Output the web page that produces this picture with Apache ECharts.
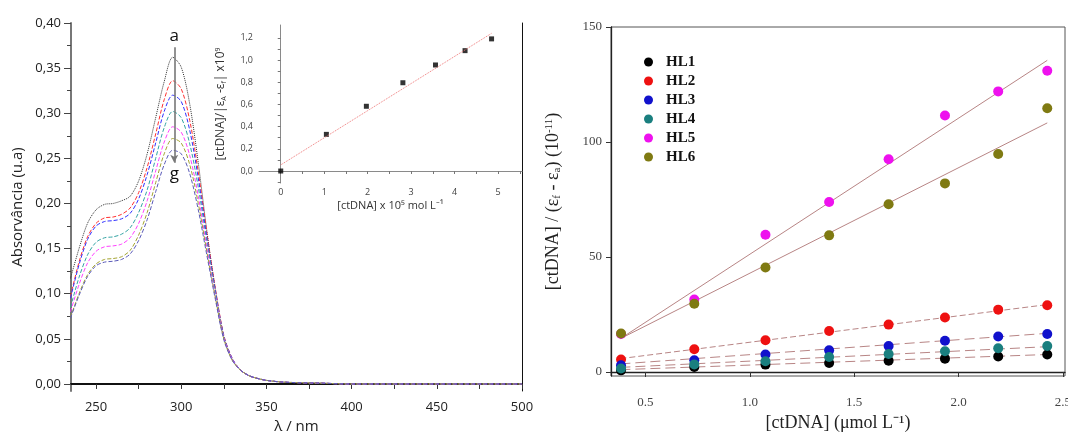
<!DOCTYPE html>
<html><head><meta charset="utf-8">
<script src="https://cdn.jsdelivr.net/npm/echarts@6/dist/echarts.min.js"></script>
<style>html,body{margin:0;padding:0;background:#fff}#c{width:1068px;height:435px}</style>
</head><body><div id="c"></div>
<script>
// ---------- Left panel: absorption spectra ----------
const wavelengths = [235,240,245,250,255,260,265,270,275,280,285,290,295,300,305,310,315,320,325,330,335,340,345,350,360,380,400,450,500];
const specA = [0.117,0.150,0.178,0.193,0.199,0.200,0.203,0.208,0.225,0.255,0.295,0.335,0.362,0.351,0.310,0.245,0.170,0.105,0.052,0.027,0.015,0.009,0.006,0.004,0.002,0.001,0,0,0];
const specB = [0.097,0.135,0.163,0.178,0.184,0.185,0.188,0.195,0.212,0.240,0.277,0.315,0.336,0.327,0.292,0.235,0.168,0.106,0.054,0.028,0.015,0.009,0.006,0.004,0.002,0.001,0,0,0];
const specC = [0.095,0.132,0.160,0.175,0.180,0.181,0.183,0.189,0.205,0.232,0.267,0.302,0.320,0.313,0.281,0.228,0.163,0.104,0.053,0.028,0.015,0.009,0.006,0.004,0.002,0.001,0,0,0];
const specD = [0.085,0.118,0.143,0.157,0.162,0.163,0.166,0.173,0.190,0.215,0.250,0.284,0.302,0.295,0.266,0.218,0.158,0.101,0.052,0.027,0.015,0.009,0.006,0.004,0.002,0.001,0,0,0];
const specE = [0.080,0.110,0.134,0.147,0.152,0.153,0.155,0.162,0.178,0.203,0.236,0.268,0.285,0.279,0.253,0.208,0.152,0.098,0.051,0.027,0.015,0.009,0.006,0.004,0.002,0.001,0,0,0];
const specF = [0.074,0.100,0.121,0.133,0.138,0.139,0.141,0.148,0.165,0.190,0.223,0.255,0.272,0.267,0.243,0.200,0.147,0.096,0.050,0.026,0.015,0.009,0.006,0.004,0.002,0.001,0,0,0];
const specG = [0.073,0.098,0.119,0.131,0.135,0.136,0.138,0.144,0.159,0.182,0.213,0.243,0.259,0.255,0.233,0.193,0.143,0.094,0.049,0.026,0.015,0.009,0.006,0.004,0.002,0.001,0,0,0];
const specColors = ['#333333','#ff3030','#3030ff','#33a3a3','#ff40ff','#a3a330','#5a5ab8'];
const leftXTickLabels = [250,300,350,400,450,500];
const leftXTicks = [250,275,300,325,350,375,400,425,450,475,500];
const leftYTickLabels = [0,0.05,0.10,0.15,0.20,0.25,0.30,0.35,0.40];
const leftYMinorTicks = [0.025,0.075,0.125,0.175,0.225,0.275,0.325,0.375];
// arrow a -> g
const arrowX = 295.9;
const arrowFromTo = [0.373, 0.245];
const labelA = 0.385, labelG = 0.232;

// ---------- Inset ----------
const insetX = [0, 1.05, 1.97, 2.81, 3.56, 4.24, 4.85];
const insetY = [0.0, 0.33, 0.583, 0.795, 0.955, 1.084, 1.19];
const insetFitX = [0, 4.85];
const insetFitY = [0.055, 1.24];
const insetXTickLabels = [0,1,2,3,4,5];
const insetXTicks = [0,0.5,1,1.5,2,2.5,3,3.5,4,4.5,5,5.5];
const insetYTickLabels = [0,0.2,0.4,0.6,0.8,1.0,1.2];
const insetYTicks = [-0.1,0,0.1,0.2,0.3,0.4,0.5,0.6,0.7,0.8,0.9,1.0,1.1,1.2];

// ---------- Right panel ----------
const concX = [0.383, 0.734, 1.075, 1.38, 1.665, 1.935, 2.19, 2.425];
const HL1 = [0.7, 2.2, 3.2, 3.9, 4.9, 5.8, 6.7, 7.6];
const HL2 = [5.4, 9.9, 13.8, 17.8, 20.6, 23.7, 27.1, 29.0];
const HL3 = [2.9, 5.1, 7.6, 9.4, 11.3, 13.6, 15.4, 16.5];
const HL4 = [1.5, 3.3, 4.7, 6.5, 7.8, 9.0, 10.3, 11.3];
const HL5 = [16.5, 31.5, 59.7, 73.9, 92.5, 111.5, 122.0, 131.0];
const HL6 = [16.7, 29.7, 45.4, 59.4, 72.9, 82.0, 94.8, 114.7];
const hlNames = ['HL1','HL2','HL3','HL4','HL5','HL6'];
const hlColors = ['#000000','#ee1111','#1111cc','#1a7f7f','#ee11ee','#7f7a12'];
const fitX = [0.38, 2.425];
const fitStart = [1.0, 5.8, 3.5, 2.0, 14.5, 14.5];
const fitEnd = [7.6, 29.3, 16.8, 11.0, 135.5, 108.3];
const rightXTickLabels = [0.5,1.0,1.5,2.0,2.5];
const rightYTickLabels = [0,50,100,150];

const zip = (xs, ys) => xs.map((x, i) => [x, ys[i]]);
const sans = 'Open Sans';
const serif = 'Liberation Serif';
const comma = (d) => (v) => v.toFixed(d).replace('.', ',');

const specs = [specA, specB, specC, specD, specE, specF, specG];
const specTypes = ['dotted',[4,2],[4,2],[4,2],[4,2],[4,2],[4,2]];

const series = [];
specs.forEach((s, i) => {
  const ser = {
    type: 'line', xAxisIndex: 0, yAxisIndex: 0, data: zip(wavelengths, s),
    showSymbol: false, smooth: 0.3, silent: true,
    lineStyle: { width: 1, color: specColors[i], type: specTypes[i] }, z: 2
  };
  if (i === 0) {
    ser.markLine = {
      silent: true, symbol: ['none', 'arrow'], symbolSize: [6, 8],
      lineStyle: { color: '#777', width: 1.6, type: 'solid' }, label: { show: false },
      data: [[{ coord: [arrowX, arrowFromTo[0]] }, { coord: [arrowX, arrowFromTo[1]] }]]
    };
    ser.markPoint = {
      silent: true, symbol: 'circle', symbolSize: 1, itemStyle: { color: 'transparent' },
      label: { show: true, position: 'inside', formatter: p => p.name, color: '#111', fontSize: 17, fontFamily: sans },
      data: [{ name: 'a', coord: [arrowX, labelA] }, { name: 'g', coord: [arrowX, labelG] }]
    };
  }
  series.push(ser);
});
series.push({ type: 'line', xAxisIndex: 2, yAxisIndex: 3, data: zip(insetFitX, insetFitY), showSymbol: false,
  lineStyle: { color: '#f07a7a', width: 1, type: 'dotted' }, silent: true });
series.push({ type: 'scatter', xAxisIndex: 2, yAxisIndex: 3, data: zip(insetX, insetY), symbol: 'rect', symbolSize: 5,
  itemStyle: { color: '#000' }, silent: true });

const hlData = [HL1, HL2, HL3, HL4, HL5, HL6];
const fitTypes = [[10,5],[6,3],[10,5],[10,5],'solid','solid'];
hlData.forEach((d, i) => {
  series.push({ type: 'line', name: 'fit' + (i + 1), xAxisIndex: 3, yAxisIndex: 4,
    data: [[fitX[0], fitStart[i]], [fitX[1], fitEnd[i]]], showSymbol: false, silent: true,
    lineStyle: { color: '#b88585', width: 1, type: fitTypes[i] }, z: 1 });
});
hlData.forEach((d, i) => {
  series.push({ type: 'scatter', name: hlNames[i], xAxisIndex: 3, yAxisIndex: 4, data: zip(concX, d),
    symbol: 'circle', symbolSize: 10, itemStyle: { color: hlColors[i], opacity: 1 }, z: 3 });
});

const option = {
  backgroundColor: '#ffffff',
  animation: false,
  grid: [
    { left: 71, top: 23, width: 451, height: 368, outerBoundsMode: 'none', containLabel: false },
    { left: 259, top: 25, width: 263, height: 158, outerBoundsMode: 'none', containLabel: false },
    { left: 611, top: 27, width: 454, height: 349, outerBoundsMode: 'none', containLabel: false, show: true, borderColor: '#555', borderWidth: 1, backgroundColor: 'transparent' }
  ],
  legend: {
    orient: 'vertical', left: 639, top: 49, itemWidth: 9, itemHeight: 9, itemGap: 3,
    data: hlNames, selectedMode: false,
    textStyle: { fontFamily: serif, fontWeight: 'bold', fontSize: 15, color: '#111', lineHeight: 16, padding: [0, 0, 0, 8] }
  },
  xAxis: [
    { type: 'value', gridIndex: 0, min: 235.3, max: 500, position: 'bottom',
      axisLine: { lineStyle: { color: '#111', width: 1.2 } },
      axisTick: { customValues: leftXTicks, length: 5, lineStyle: { color: '#333' } },
      axisLabel: { customValues: leftXTickLabels, fontSize: 13, margin: 10, color: '#222', fontFamily: sans },
      splitLine: { show: false },
      name: 'λ / nm', nameLocation: 'middle', nameGap: 28, nameTextStyle: { fontSize: 15, color: '#222', fontFamily: sans } },
    { type: 'value', gridIndex: 0, min: 235.3, max: 500, position: 'top',
      axisLine: { lineStyle: { color: '#111', width: 2 } }, axisTick: { show: false }, axisLabel: { show: false }, splitLine: { show: false } },
    { type: 'value', gridIndex: 1, min: -0.5, max: 5.55, position: 'bottom',
      axisLine: { lineStyle: { color: '#8a8a8a', width: 1 } },
      axisTick: { customValues: insetXTicks, length: 3, lineStyle: { color: '#777' } },
      axisLabel: { customValues: insetXTickLabels, fontSize: 9, margin: 5, color: '#444', fontFamily: sans },
      splitLine: { show: false },
      name: '[ctDNA] x 10⁵ mol L⁻¹', nameLocation: 'middle', nameGap: 17, nameTextStyle: { fontSize: 11, color: '#333', fontFamily: sans } },
    { type: 'value', gridIndex: 2, min: 0.335, max: 2.51, position: 'bottom',
      axisLine: { lineStyle: { color: '#222', width: 1.3 } },
      axisTick: { customValues: rightXTickLabels, length: 5, lineStyle: { color: '#333' } },
      axisLabel: { customValues: rightXTickLabels, formatter: v => v.toFixed(1), fontSize: 13, margin: 20, color: '#444', fontFamily: serif },
      splitLine: { show: false },
      name: '[ctDNA] (μmol L⁻¹)', nameLocation: 'middle', nameGap: 38, nameTextStyle: { fontSize: 18, color: '#222', fontFamily: serif } }
  ],
  yAxis: [
    { type: 'value', gridIndex: 0, min: -0.0078, max: 0.40, position: 'left',
      axisLine: { lineStyle: { color: '#777', width: 2 } },
      axisTick: { customValues: leftYTickLabels, length: 7, lineStyle: { color: '#444' } },
      axisLabel: { customValues: leftYTickLabels, formatter: comma(2), fontSize: 13, margin: 10, color: '#222', fontFamily: sans },
      splitLine: { show: false },
      name: 'Absorvância (u.a)', nameLocation: 'middle', nameGap: 46, nameTextStyle: { fontSize: 15, color: '#222', fontFamily: sans } },
    { type: 'value', gridIndex: 0, min: -0.0078, max: 0.40, position: 'left', offset: 0,
      axisLine: { show: false },
      axisTick: { customValues: leftYMinorTicks, length: 4, lineStyle: { color: '#444' } },
      axisLabel: { show: false }, splitLine: { show: false } },
    { type: 'value', gridIndex: 0, min: -0.0078, max: 0.40, position: 'right',
      axisLine: { show: true, lineStyle: { color: '#111', width: 1 } }, axisTick: { show: false }, axisLabel: { show: false }, splitLine: { show: false } },
    { type: 'value', gridIndex: 1, min: -0.108, max: 1.315, position: 'left',
      axisLine: { lineStyle: { color: '#8a8a8a', width: 1 } },
      axisTick: { customValues: insetYTicks, length: 3, lineStyle: { color: '#777' } },
      axisLabel: { customValues: insetYTickLabels, formatter: comma(1), fontSize: 9, margin: 6, color: '#444', fontFamily: sans },
      splitLine: { show: false },
      name: '{n|[ctDNA]/|ε}{s|A}{n| -ε}{s|f}{n|| x10}{p|9}', nameLocation: 'middle', nameGap: 32,
      nameTextStyle: { fontFamily: sans, color: '#333',
        rich: { n: { fontSize: 12, fontFamily: sans, color: '#333' },
                s: { fontSize: 7, fontFamily: sans, color: '#333', verticalAlign: 'bottom', padding: [6, 0, 0, 0] },
                p: { fontSize: 7, fontFamily: sans, color: '#333', verticalAlign: 'top', padding: [0, 0, 6, 0] } } } },
    { type: 'value', gridIndex: 2, min: -1.75, max: 150, position: 'left',
      axisLine: { lineStyle: { color: '#222', width: 1.3 } },
      axisTick: { customValues: rightYTickLabels, length: 5, lineStyle: { color: '#333' } },
      axisLabel: { customValues: rightYTickLabels, fontSize: 13, margin: 9, color: '#444', fontFamily: serif },
      splitLine: { show: false },
      name: '{n|[ctDNA] / (ε}{s|f}{n| - ε}{s|a}{n|) (10}{p|-11}{n|)}', nameLocation: 'middle', nameGap: 48,
      nameTextStyle: { fontFamily: serif, color: '#222',
        rich: { n: { fontSize: 18, fontFamily: serif, color: '#222' },
                s: { fontSize: 11, fontFamily: serif, color: '#222', verticalAlign: 'bottom', padding: [8, 0, 0, 0] },
                p: { fontSize: 11, fontFamily: serif, color: '#222', verticalAlign: 'top', padding: [0, 0, 8, 0] } } } }
  ],
  series: series
};
const chart = echarts.init(document.getElementById('c'), null, { renderer: 'canvas' });
chart.setOption(option);
</script></body></html>
